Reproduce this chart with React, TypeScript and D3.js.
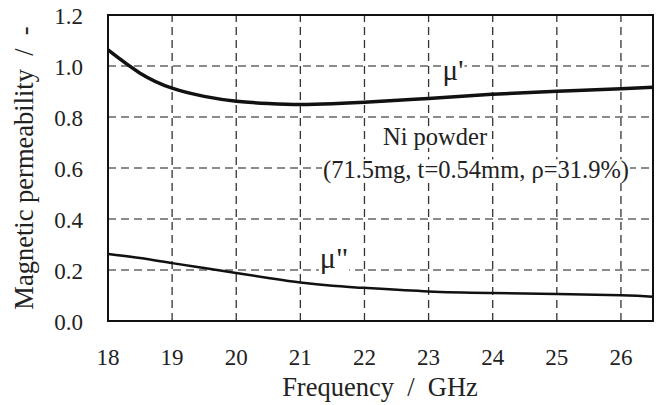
import React, { useRef, useEffect } from "react";
import * as d3 from "d3";

// frequency in GHz
const freq = [18, 18.5, 19, 19.5, 20, 20.5, 21, 21.5, 22, 23, 24, 25, 26, 26.5];
// real part mu'
const muReal = [1.063, 0.972, 0.913, 0.881, 0.862, 0.853, 0.849, 0.852, 0.858, 0.873, 0.889, 0.901, 0.911, 0.917];
// imaginary part mu''
const muImag = [0.263, 0.247, 0.227, 0.208, 0.188, 0.169, 0.151, 0.138, 0.13, 0.116, 0.11, 0.106, 0.101, 0.095];

const xTicks = [18, 19, 20, 21, 22, 23, 24, 25, 26];
const yTicks = [0, 0.2, 0.4, 0.6, 0.8, 1.0, 1.2];

function App() {
  const svgRef = useRef<SVGSVGElement>(null);

  const width = 657;
  const height = 405;
  const margin = { top: 15, right: 4, bottom: 84, left: 108 };

  useEffect(() => {
    const svg = d3.select(svgRef.current);
    svg.selectAll("*").remove();

    const x = d3.scaleLinear().domain([18, 26.5]).range([margin.left, width - margin.right]);
    const y = d3.scaleLinear().domain([0, 1.2]).range([height - margin.bottom, margin.top]);

    // vertical grid
    svg
      .append("g")
      .selectAll("line")
      .data(xTicks.slice(1))
      .enter()
      .append("line")
      .attr("x1", (d) => x(d))
      .attr("x2", (d) => x(d))
      .attr("y1", y(0))
      .attr("y2", y(1.2))
      .attr("stroke", "#333")
      .attr("stroke-width", 1.3)
      .attr("stroke-dasharray", "8,5");

    // horizontal grid
    svg
      .append("g")
      .selectAll("line")
      .data(yTicks.slice(1, -1))
      .enter()
      .append("line")
      .attr("x1", x(18))
      .attr("x2", x(26.5))
      .attr("y1", (d) => y(d))
      .attr("y2", (d) => y(d))
      .attr("stroke", "#666")
      .attr("stroke-width", 1.3)
      .attr("stroke-dasharray", "8,5");

    // annotations (white box behind, so the grid is broken around them)
    const notes = [
      { t: "\u03bc'", x: 453, y: 80, s: 29 },
      { t: "\u03bc\"", x: 334, y: 268, s: 30 },
      { t: "Ni powder", x: 435, y: 145, s: 24.5 },
      { t: "(71.5mg, t=0.54mm, \u03c1=31.9%)", x: 476, y: 178, s: 24.5 },
    ];
    const noteG = svg.append("g");
    notes.forEach((n) => {
      const g = noteG.append("g");
      const rect = g.append("rect").attr("fill", "#fff");
      const txt = g
        .append("text")
        .attr("x", n.x)
        .attr("y", n.y)
        .attr("text-anchor", "middle")
        .style("font-size", `${n.s}px`)
        .attr("fill", "#222")
        .text(n.t);
      const bb = (txt.node() as SVGTextElement).getBBox();
      rect
        .attr("x", bb.x - 1)
        .attr("y", bb.y + bb.height * 0.12)
        .attr("width", bb.width + 2)
        .attr("height", bb.height * 0.8);
    });

    // frame
    svg
      .append("rect")
      .attr("x", x(18))
      .attr("y", y(1.2))
      .attr("width", x(26.5) - x(18))
      .attr("height", y(0) - y(1.2))
      .attr("fill", "none")
      .attr("stroke", "#111")
      .attr("stroke-width", 2);

    const line = d3
      .line<number>()
      .x((_, i) => x(freq[i]))
      .curve(d3.curveNatural);

    svg
      .append("path")
      .datum(muReal)
      .attr("fill", "none")
      .attr("stroke", "#111")
      .attr("stroke-width", 3.5)
      .attr("d", line.y((d) => y(d)));

    svg
      .append("path")
      .datum(muImag)
      .attr("fill", "none")
      .attr("stroke", "#111")
      .attr("stroke-width", 2.5)
      .attr("d", line.y((d) => y(d)));

    // tick labels
    svg
      .append("g")
      .selectAll("text")
      .data(xTicks)
      .enter()
      .append("text")
      .attr("x", (d) => x(d))
      .attr("y", 365)
      .attr("text-anchor", "middle")
      .style("font-size", "23px")
      .attr("fill", "#222")
      .text((d) => d);

    svg
      .append("g")
      .selectAll("text")
      .data(yTicks)
      .enter()
      .append("text")
      .attr("x", margin.left - 25)
      .attr("y", (d) => y(d) + 8.5)
      .attr("text-anchor", "end")
      .style("font-size", "23px")
      .attr("fill", "#222")
      .text((d) => d.toFixed(1));

    // axis titles
    svg
      .append("text")
      .attr("x", 380)
      .attr("y", 396)
      .attr("text-anchor", "middle")
      .style("font-size", "26.5px")
      .style("white-space", "pre")
      .attr("fill", "#222")
      .text("Frequency  /  GHz");

    svg
      .append("text")
      .attr("transform", "rotate(-90)")
      .attr("x", -168)
      .attr("y", 33)
      .attr("text-anchor", "middle")
      .style("font-size", "26.5px")
      .style("white-space", "pre")
      .attr("fill", "#222")
      .text("Magnetic permeability  /  -");
  }, []);

  return (
    <div>
      <svg
        ref={svgRef}
        width={width}
        height={height}
        style={{
          position: "absolute",
          left: 0,
          top: 0,
          background: "#fff",
          fontFamily: '"Liberation Serif", "Times New Roman", serif',
        }}
      />
    </div>
  );
}

export default App;
